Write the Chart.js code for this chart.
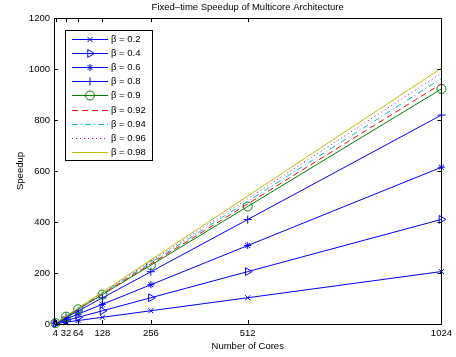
<!DOCTYPE html>
<html>
<head>
<meta charset="utf-8">
<script src="https://cdn.jsdelivr.net/npm/chart.js@4.4.0/dist/chart.umd.min.js"></script>
<style>
  html, body { margin: 0; padding: 0; background: #fff; }
  #wrap { width: 456px; height: 357px; }
</style>
</head>
<body>
<div id="wrap"><canvas id="speedupChart" width="456" height="357"></canvas></div>
<script>
// data
const cores = [4, 32, 64, 128, 256, 512, 1024];
const xTicks = [4, 32, 64, 128, 256, 512, 1024];
const yTicks = [0, 200, 400, 600, 800, 1000, 1200];

const betaLabels = ['β = 0.2', 'β = 0.4', 'β = 0.6', 'β = 0.8', 'β = 0.9', 'β = 0.92', 'β = 0.94', 'β = 0.96', 'β = 0.98'];
const b020 = [1.6, 7.2, 13.6, 26.4, 52, 103, 205.6];
const b040 = [2.2, 13.4, 26.2, 51.8, 103, 205.4, 410.2];
const b060 = [2.8, 19.6, 38.8, 77.2, 154, 307.6, 614.8];
const b080 = [3.4, 25.8, 51.4, 102.6, 205, 409.8, 819.4];
const b090 = [3.7, 28.9, 57.7, 115.3, 230.5, 460.9, 921.7];
const b092 = [3.8, 29.5, 59, 117.8, 235.6, 471.1, 942.2];
const b094 = [3.8, 30.1, 60.2, 120.4, 240.7, 481.3, 962.6];
const b096 = [3.9, 30.7, 61.4, 122.9, 245.8, 491.5, 983.1];
const b098 = [3.9, 31.4, 62.7, 125.5, 250.9, 501.8, 1003.5];

const FONT = 'Liberation Sans, Arial, Helvetica, sans-serif';
const blue = 'rgb(0,0,255)';

const styles = [
  { color: blue, point: 'crossRot', radius: 3.5 },
  { color: blue, point: 'triangle', radius: 4.5, rot: 90 },
  { color: blue, point: 'star', radius: 3.5 },
  { color: blue, point: 'cross', radius: 4 },
  { color: 'rgb(0,128,0)', point: 'circle', radius: 4.5 },
  { color: 'rgb(255,0,0)', point: false, dash: [6, 4] },
  { color: 'rgb(0,191,191)', point: false, dash: [6, 3, 1, 3] },
  { color: 'rgb(191,0,191)', point: false, dash: [1, 3] },
  { color: 'rgb(191,191,0)', point: false }
];
const series = [b020, b040, b060, b080, b090, b092, b094, b096, b098];

const datasets = series.map((vals, i) => {
  const s = styles[i];
  return {
    label: betaLabels[i],
    data: cores.map((c, j) => ({ x: c, y: vals[j] })),
    borderColor: s.color,
    backgroundColor: 'transparent',
    borderWidth: 1,
    borderDash: s.dash || [],
    pointStyle: s.point,
    pointRadius: s.point ? s.radius : 0,
    pointRotation: s.rot || 0,
    pointBorderColor: s.color,
    pointBackgroundColor: 'transparent',
    pointBorderWidth: 1,
    tension: 0,
    clip: false,
    order: 20 - i
  };
});

// box, inward ticks, titles and the legend, MATLAB style
const matlabFrame = {
  id: 'matlabFrame',
  afterDatasetsDraw(chart) {
    const { ctx, chartArea: a, scales } = chart;
    ctx.save();
    ctx.strokeStyle = '#000';
    ctx.lineWidth = 1;
    ctx.setLineDash([]);
    ctx.strokeRect(Math.round(a.left) + 0.5, Math.round(a.top) + 0.5, Math.round(a.right - a.left), Math.round(a.bottom - a.top));

    ctx.beginPath();
    xTicks.forEach(t => {
      const x = Math.round(scales.x.getPixelForValue(t)) + 0.5;
      ctx.moveTo(x, a.bottom); ctx.lineTo(x, a.bottom - 4);
      ctx.moveTo(x, a.top); ctx.lineTo(x, a.top + 4);
    });
    yTicks.forEach(t => {
      const y = Math.round(scales.y.getPixelForValue(t)) + 0.5;
      ctx.moveTo(a.left, y); ctx.lineTo(a.left + 4, y);
      ctx.moveTo(a.right, y); ctx.lineTo(a.right - 4, y);
    });
    ctx.stroke();

    ctx.fillStyle = '#000';
    ctx.font = '9.5px ' + FONT;
    ctx.textAlign = 'center';
    ctx.textBaseline = 'middle';
    ctx.fillText('Fixed\u2013time Speedup of Multicore Architecture', (a.left + a.right) / 2, 7);
    ctx.fillText('Number of Cores', (a.left + a.right) / 2, 346);
    ctx.save();
    ctx.translate(20, (a.top + a.bottom) / 2);
    ctx.rotate(-Math.PI / 2);
    ctx.fillText('Speedup', 0, 0);
    ctx.restore();

    // legend
    const lx = 65, ly = 30, lw = 87, lh = 130;
    ctx.fillStyle = '#fff';
    ctx.fillRect(lx, ly, lw, lh);
    ctx.strokeStyle = '#000';
    ctx.strokeRect(lx + 0.5, ly + 0.5, lw, lh);
    chart.data.datasets.forEach((ds, i) => {
      const y = Math.round(39 + i * 14.1) + 0.5;
      ctx.strokeStyle = ds.borderColor;
      ctx.lineWidth = 1;
      ctx.setLineDash(ds.borderDash);
      ctx.beginPath();
      ctx.moveTo(72, y); ctx.lineTo(108, y);
      ctx.stroke();
      ctx.setLineDash([]);
      if (ds.pointStyle) {
        ctx.fillStyle = 'rgba(0,0,0,0)';
        ctx.strokeStyle = ds.borderColor;
        Chart.helpers.drawPoint(ctx, {
          pointStyle: ds.pointStyle,
          radius: ds.pointRadius,
          rotation: ds.pointRotation,
          borderWidth: 1
        }, 90, y);
      }
      ctx.fillStyle = '#000';
      ctx.textAlign = 'left';
      ctx.fillText(ds.label, 111, y);
    });
    ctx.restore();
  }
};

new Chart(document.getElementById('speedupChart'), {
  type: 'line',
  data: { datasets },
  plugins: [matlabFrame],
  options: {
    responsive: false,
    animation: false,
    layout: { padding: { top: 18, right: 11, left: 0, bottom: 0 } },
    plugins: { legend: { display: false }, tooltip: { enabled: false }, title: { display: false } },
    scales: {
      x: {
        type: 'linear',
        min: 0,
        max: 1024,
        afterBuildTicks: s => { s.ticks = xTicks.map(v => ({ value: v })); },
        afterFit: s => { s.height = 33; },
        grid: { display: false, drawTicks: false },
        border: { display: false },
        ticks: { autoSkip: false, maxRotation: 0, padding: 4, color: '#000', font: { family: FONT, size: 9.5 }, callback: v => String(v) }
      },
      y: {
        min: 0,
        max: 1200,
        afterBuildTicks: s => { s.ticks = yTicks.map(v => ({ value: v })); },
        afterFit: s => { s.width = 54; },
        grid: { display: false, drawTicks: false },
        border: { display: false },
        ticks: { padding: 4, color: '#000', font: { family: FONT, size: 9.5 }, callback: v => String(v) }
      }
    }
  }
});
</script>
</body>
</html>
